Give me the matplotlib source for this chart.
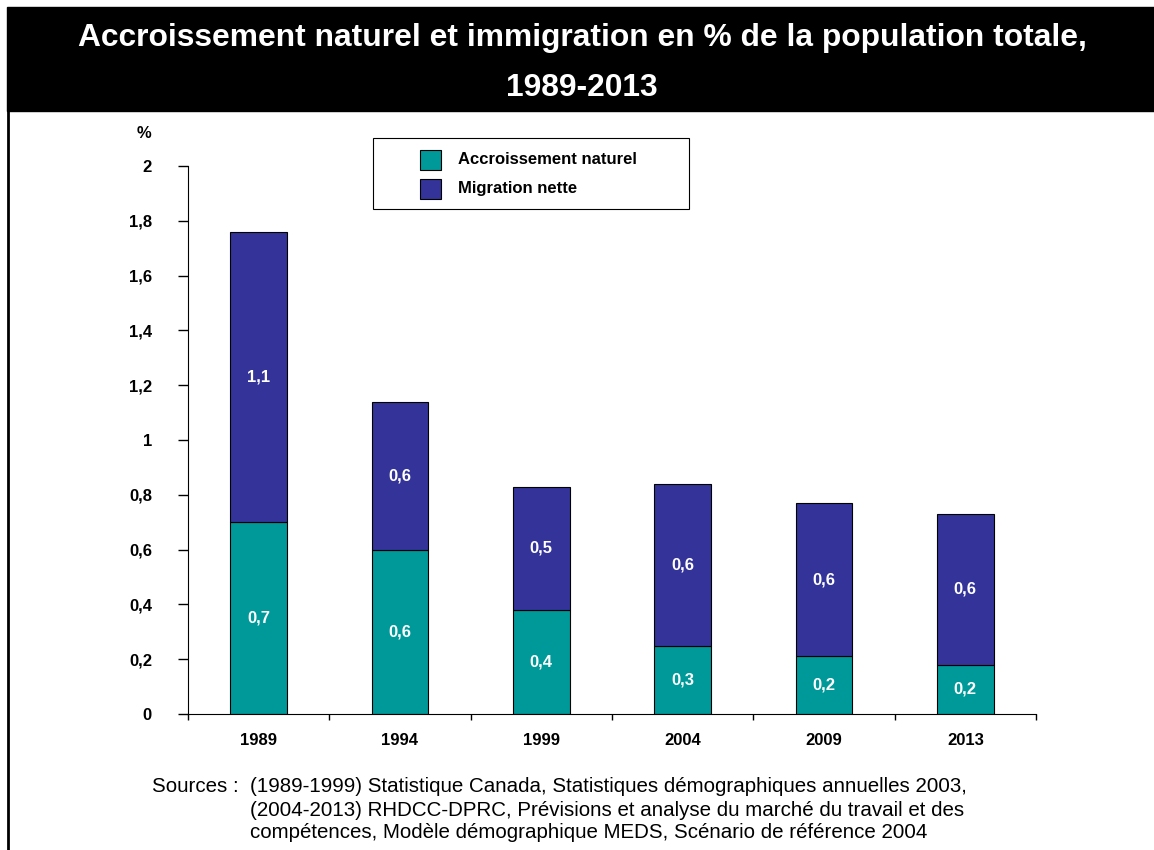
import numpy as np
import matplotlib.pyplot as plt
from matplotlib.patches import Rectangle
from matplotlib.lines import Line2D

plt.rcParams['font.family'] = ['Liberation Sans', 'DejaVu Sans']

annees = ['1989', '1994', '1999', '2004', '2009', '2013']
naturel = [0.70, 0.60, 0.38, 0.25, 0.21, 0.18]
migration = [1.06, 0.54, 0.45, 0.59, 0.56, 0.55]
lab_naturel = ['0,7', '0,6', '0,4', '0,3', '0,2', '0,2']
lab_migration = ['1,1', '0,6', '0,5', '0,6', '0,6', '0,6']
yticks = [0, 0.2, 0.4, 0.6, 0.8, 1, 1.2, 1.4, 1.6, 1.8, 2]
yticklab = ['0', '0,2', '0,4', '0,6', '0,8', '1', '1,2', '1,4', '1,6', '1,8', '2']
series = ['Accroissement naturel', 'Migration nette']

c_nat = '#009999'
c_mig = '#333399'

W, H = 1154, 850
fig = plt.figure(figsize=(W / 100, H / 100), dpi=100)

def fx(px):
    return px / W

def fy(py):
    return 1 - py / H

# bandeau titre
fig.patches.append(Rectangle((fx(7), fy(111)), 1, (111 - 7) / H,
                             transform=fig.transFigure, color='black', zorder=0))
fig.lines.append(Line2D([fx(8), fx(8)], [0, fy(111)], transform=fig.transFigure,
                        color='black', lw=2))
fig.text(fx(582), fy(38), 'Accroissement naturel et immigration en % de la population totale,',
         color='white', fontsize=22.9, fontweight='bold', ha='center', va='center')
fig.text(fx(582), fy(88), '1989-2013', color='white', fontsize=22.9,
         fontweight='bold', ha='center', va='center')

ax = fig.add_axes([fx(188), fy(714), (1036 - 188) / W, (714 - 166) / H])
x = np.arange(len(annees))
w = 0.40
ax.bar(x, naturel, w, color=c_nat, edgecolor='black', lw=0.8)
ax.bar(x, migration, w, bottom=naturel, color=c_mig, edgecolor='black', lw=0.8)

for i in range(len(x)):
    ax.text(x[i], naturel[i] / 2, lab_naturel[i], color='white', fontsize=12,
            fontweight='bold', ha='center', va='center')
    ax.text(x[i], naturel[i] + migration[i] / 2, lab_migration[i], color='white',
            fontsize=12, fontweight='bold', ha='center', va='center')

ax.set_xlim(-0.5, len(x) - 0.5)
ax.set_ylim(0, 2)
ax.spines['top'].set_visible(False)
ax.spines['right'].set_visible(False)
ax.set_yticks(yticks)
ax.set_yticklabels(yticklab, fontsize=12, fontweight='bold')
ax.tick_params(axis='y', length=7, width=1, pad=19)
ax.set_xticks(x)
ax.set_xticklabels(annees, fontsize=12, fontweight='bold')
ax.set_xticks(np.arange(len(x) + 1) - 0.5, minor=True)
ax.tick_params(axis='x', which='major', length=0, pad=14)
ax.tick_params(axis='x', which='minor', length=4.5, width=1)

fig.text(fx(144), fy(133), '%', fontsize=12, fontweight='bold', ha='center', va='center')

# légende
fig.patches.append(Rectangle((fx(373), fy(209)), (689 - 373) / W, (209 - 138) / H,
                             transform=fig.transFigure, facecolor='white',
                             edgecolor='black', lw=0.8))
for k, (nom, col) in enumerate(zip(series, [c_nat, c_mig])):
    yc = 160 + 29 * k
    fig.patches.append(Rectangle((fx(420), fy(yc + 10)), 21 / W, 20 / H,
                                 transform=fig.transFigure, facecolor=col,
                                 edgecolor='black', lw=0.8))
    fig.text(fx(458), fy(yc), nom, fontsize=12, fontweight='bold', ha='left', va='center')

# sources
fig.text(fx(152), fy(787), 'Sources :', fontsize=14.8, va='center', ha='left')
src = ['(1989-1999) Statistique Canada, Statistiques démographiques annuelles 2003,',
       '(2004-2013) RHDCC-DPRC, Prévisions et analyse du marché du travail et des',
       'compétences, Modèle démographique MEDS, Scénario de référence 2004']
for k, s in enumerate(src):
    fig.text(fx(250), fy(787 + 23 * k), s, fontsize=14.8, va='center', ha='left')

fig.savefig('out.png', dpi=100)
